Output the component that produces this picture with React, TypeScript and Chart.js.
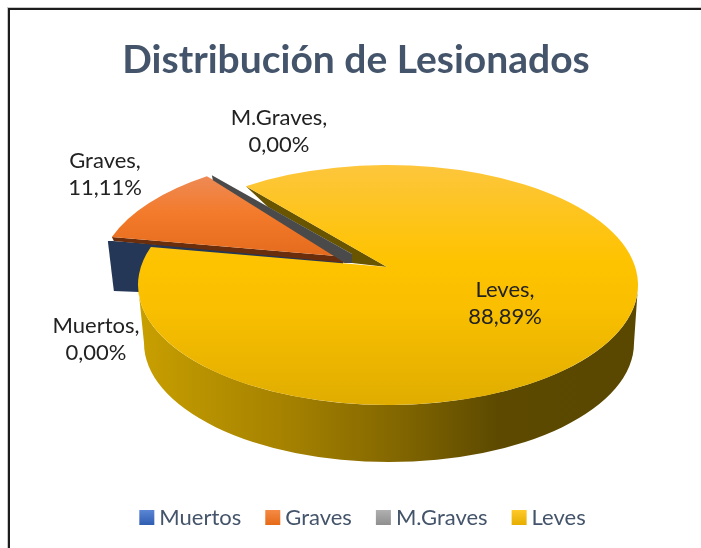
import React, { useEffect, useRef } from "react";
import { Chart, registerables } from "chart.js";

Chart.register(...registerables);

const categories = ["Muertos", "Graves", "M.Graves", "Leves"];
const values = [0, 11.11, 0, 88.89];
const colors = ["#4472c4", "#ed7d31", "#a5a5a5", "#ffc000"];
const chartTitle = "Distribución de Lesionados";

const FONT = "Lato, Carlito, Calibri, sans-serif";
const labelAnchors = [
  { x: 96, y: 326 },
  { x: 105, y: 161 },
  { x: 279, y: 118 },
  { x: 505, y: 290 },
];

const PIE = { cx: 388, cy: 285, rx: 250, ry: 120, apexX: 387, apexY: 267, depth: 58, squash: 0.48 };
const EXPLODE = { x: -39, y: -10 };

// Where the ray leaving the apex at angle a (clockwise from up) meets the rim.
function rim(angle: number, dx = 0, dy = 0) {
  const ux = Math.sin(angle);
  const uy = -Math.cos(angle) * PIE.squash;
  const ox = (PIE.apexX - PIE.cx) / PIE.rx;
  const oy = (PIE.apexY - PIE.cy) / PIE.ry;
  const vx = ux / PIE.rx;
  const vy = uy / PIE.ry;
  const a = vx * vx + vy * vy;
  const b = 2 * (ox * vx + oy * vy);
  const c = ox * ox + oy * oy - 1;
  const t = (-b + Math.sqrt(b * b - 4 * a * c)) / (2 * a);
  const x = PIE.apexX + ux * t;
  const y = PIE.apexY + uy * t;
  return { x: x + dx, y: y + dy, param: Math.atan2((y - PIE.cy) / PIE.ry, (x - PIE.cx) / PIE.rx) };
}

function poly(ctx: CanvasRenderingContext2D, pts: number[][], fill: string | CanvasGradient) {
  ctx.beginPath();
  pts.forEach(([x, y], i) => (i ? ctx.lineTo(x, y) : ctx.moveTo(x, y)));
  ctx.closePath();
  ctx.fillStyle = fill;
  ctx.fill();
}

function vGrad(ctx: CanvasRenderingContext2D, y0: number, y1: number, stops: [number, string][]) {
  const g = ctx.createLinearGradient(0, y0, 0, y1);
  stops.forEach(([p, c]) => g.addColorStop(p, c));
  return g;
}

const legendStops: [number, string][][] = [
  [[0, "#5b86d6"], [1, "#2f5db0"]],
  [[0, "#f58a45"], [1, "#e56a18"]],
  [[0, "#b0b0b0"], [1, "#8f8f8f"]],
  [[0, "#ffc928"], [1, "#e6ae00"]],
];

const pie3d = {
  id: "pie3d",
  afterLayout(chart: any) {
    chart.titleBlock.left -= 7;
    chart.titleBlock.right -= 0;
  },
  beforeDraw(chart: any) {
    const { ctx } = chart;
    ctx.save();
    ctx.fillStyle = "#ffffff";
    ctx.fillRect(0, 0, chart.width, chart.height);
    ctx.fillStyle = "#c8c8c8";
    ctx.fillRect(7, 7, chart.width - 7, 1);
    ctx.fillRect(7, 7, 1, chart.height - 7);
    ctx.fillStyle = "#1c1c1c";
    ctx.fillRect(8, 8, chart.width - 8, 2);
    ctx.fillRect(8, 8, 2, chart.height - 8);
    ctx.restore();
  },
  beforeDatasetsDraw(chart: any) {
    const { ctx } = chart;
    const arcs = chart.getDatasetMeta(0).data;
    const from = (i: number) => arcs[i].startAngle + Math.PI / 2;
    const to = (i: number) => arcs[i].endAngle + Math.PI / 2;
    const ax = PIE.apexX;
    const ay = PIE.apexY;
    ctx.save();

    // Outer wall of Leves
    const wall = ctx.createLinearGradient(PIE.cx - PIE.rx, 0, PIE.cx + PIE.rx, 0);
    wall.addColorStop(0, "#c9a000");
    wall.addColorStop(0.12, "#b99300");
    wall.addColorStop(0.32, "#a27f00");
    wall.addColorStop(0.52, "#826600");
    wall.addColorStop(0.72, "#5d4a00");
    wall.addColorStop(1, "#5a4700");
    ctx.beginPath();
    ctx.ellipse(PIE.cx, PIE.cy, PIE.rx, PIE.ry, 0, 0, Math.PI);
    ctx.lineTo(144, PIE.cy + PIE.depth);
    ctx.ellipse(PIE.cx + 1, PIE.cy + PIE.depth, PIE.rx - 5, PIE.ry - 1, 0, Math.PI, 0, true);
    ctx.closePath();
    ctx.fillStyle = wall;
    ctx.fill();

    // Muertos: a zero-angle slice, only its wall shows
    const m = rim(from(0), EXPLODE.x, EXPLODE.y);
    poly(ctx, [[m.x - 4, m.y + 4], [m.x + 1, m.y + 4], [343, 259], [343, 264], [139, 292], [m.x + 2, m.y + 54]], "#243757");

    // Graves: exploded slice and its cut wall
    const g0 = rim(from(1), EXPLODE.x, EXPLODE.y);
    const g1 = rim(to(1), EXPLODE.x, EXPLODE.y);
    const ox = ax + EXPLODE.x;
    const oy = ay + EXPLODE.y;
    poly(ctx, [[g0.x, g0.y], [ox, oy], [ox - 1, oy + 6], [g0.x + 2, g0.y + 4]], "#6a2e0c");
    ctx.beginPath();
    ctx.moveTo(ox, oy);
    ctx.lineTo(g1.x, g1.y);
    ctx.ellipse(PIE.cx + EXPLODE.x, PIE.cy + EXPLODE.y, PIE.rx, PIE.ry, 0, g1.param, g0.param, true);
    ctx.closePath();
    ctx.fillStyle = vGrad(ctx, g1.y, oy + 4, [[0, "#ee8a55"], [0.45, "#f37a2a"], [1, "#e3691c"]]);
    ctx.fill();

    // Leves: cut wall, then M.Graves: zero-angle wall
    const l0 = rim(from(3));
    const l1 = rim(to(3));
    poly(ctx, [[l0.x, l0.y], [ax, ay], [352, 263], [352, 254], [268, 207]], "#695500");
    const mg = rim(from(2), EXPLODE.x + 5, EXPLODE.y - 1);
    poly(ctx, [[mg.x, mg.y], [352, 254], [352, 263], [345, 263], [mg.x + 1, mg.y + 5]], "#4a4a4a");

    // Leves: top face
    ctx.beginPath();
    ctx.moveTo(ax, ay);
    ctx.lineTo(l0.x, l0.y);
    ctx.ellipse(PIE.cx, PIE.cy, PIE.rx, PIE.ry, 0, l0.param, l1.param, false);
    ctx.closePath();
    ctx.fillStyle = vGrad(ctx, PIE.cy - PIE.ry, PIE.cy + PIE.ry, [[0, "#fdc63c"], [0.4, "#fec300"], [0.6, "#f9bf00"], [1, "#e0ad00"]]);
    ctx.fill();

    // Data labels
    ctx.fillStyle = "#222222";
    ctx.font = `22px ${FONT}`;
    ctx.textAlign = "center";
    ctx.textBaseline = "middle";
    labelAnchors.forEach((p, i) => {
      ctx.fillText(`${categories[i]},`, p.x, p.y);
      ctx.fillText(`${values[i].toFixed(2).replace(".", ",")}%`, p.x, p.y + 27);
    });
    ctx.restore();
    return false;
  },
  afterDraw(chart: any) {
    const { ctx } = chart;
    const boxes = chart.legend?.legendHitBoxes ?? [];
    ctx.save();
    boxes.forEach((b: any, i: number) => {
      const y = b.top + b.height / 2 - 8;
      ctx.fillStyle = vGrad(ctx, y, y + 15, legendStops[i]);
      ctx.fillRect(b.left + 6, y, 15, 15);
    });
    ctx.restore();
  },
};

export default function App() {
  const ref = useRef<HTMLCanvasElement>(null);
  useEffect(() => {
    const chart = new Chart(ref.current as HTMLCanvasElement, {
      type: "pie",
      data: {
        labels: categories,
        datasets: [{ data: values, backgroundColor: colors, borderWidth: 0 }],
      },
      options: {
        responsive: false,
        animation: false,
        rotation: -80,
        layout: { padding: { left: 18, right: 0, top: 37, bottom: 9 } },
        plugins: {
          tooltip: { enabled: false },
          title: {
            display: true,
            text: chartTitle,
            color: "#44546a",
            font: { family: FONT, size: 39, weight: "bold" },
            padding: { top: 0, bottom: 10 },
          },
          legend: {
            display: true,
            position: "bottom",
            labels: {
              color: "#44546a",
              font: { family: FONT, size: 22 },
              boxWidth: 15,
              boxHeight: 15,
              padding: 18,
              generateLabels: () =>
                categories.map((text, i) => ({
                  text,
                  fillStyle: "rgba(0,0,0,0)",
                  strokeStyle: "rgba(0,0,0,0)",
                  fontColor: "#44546a",
                  lineWidth: 0,
                  index: i,
                  hidden: false,
                })),
            },
          },
        },
      },
      plugins: [pie3d],
    } as any);
    return () => chart.destroy();
  }, []);
  return (
    <div style={{ position: "absolute", left: 0, top: 0, width: 701, height: 548, background: "#fff" }}>
      <canvas ref={ref} width={701} height={548} style={{ display: "block" }} />
    </div>
  );
}
